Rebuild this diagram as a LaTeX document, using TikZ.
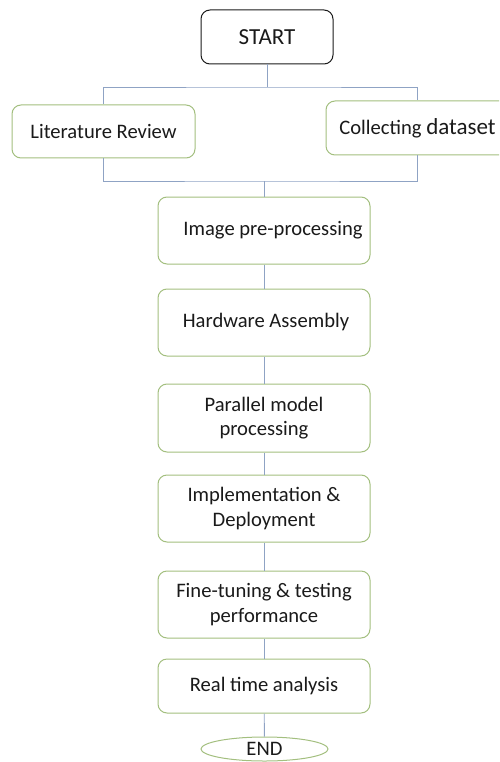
\documentclass[tikz,border=0pt]{standalone}
\usepackage{fontspec}
\setmainfont{Carlito}
\usetikzlibrary{shapes.geometric}
\definecolor{boxgreen}{HTML}{A3BF7F}
\definecolor{linkblue}{HTML}{8FA3C4}
\definecolor{ink}{HTML}{1A1A1A}
\begin{document}
\begin{tikzpicture}[x=1pt,y=-1pt,
  stepbox/.style={draw=boxgreen, line width=1pt, rounded corners=9pt, fill=white,
    minimum width=212pt, minimum height=67pt, align=center, text=ink,
    font=\fontsize{20.6}{24.5}\selectfont, inner sep=2pt},
  link/.style={draw=linkblue, line width=0.9pt}]
\useasboundingbox (0,0) rectangle (499,762);
\clip (0,0) rectangle (499,762);

% start node
\node[draw=ink, line width=1pt, rounded corners=9pt, minimum width=132pt,
  minimum height=54pt, text=ink, font=\fontsize{23}{27}\selectfont] (start) at (267,37) {START};

% two parallel tasks
\node[stepbox, minimum width=183pt, minimum height=53pt] (lit) at (103.5,131.5) {Literature Review};
\node[stepbox, minimum width=183pt, minimum height=54pt] (coll) at (417.5,128)
  {Collecting {\fontsize{23}{27}\selectfont dataset}};

% main chain
\node[stepbox] (img)  at (264,230.5) {\hspace*{18pt}Image pre-processing};
\node[stepbox] (hw)   at (264,322.5) {\hspace*{4pt}Hardware Assembly};
\node[stepbox, minimum height=68pt] (par) at (264,418) {Parallel model\\processing};
\node[stepbox] (impl) at (264,508.5) {Implementation \&\\Deployment};
\node[stepbox] (fine) at (264,604.5) {Fine-tuning \& testing\\performance};
\node[stepbox, minimum height=54pt] (rta) at (264,686) {Real time analysis};
\node[draw=boxgreen, line width=1pt, ellipse, minimum width=127pt, minimum height=24pt,
  inner sep=0pt, text=ink, font=\fontsize{20.6}{22}\selectfont] (finish) at (264.5,749) {END};

% branching connectors
\coordinate (top) at (267,87);
\coordinate (join) at (264,181);
\draw[link] (start) -- (top);
\draw[link] (lit.north) |- (top) -| (coll.north);
\draw[link] (lit.south) |- (join) -| (coll.south);
\draw[link] (join) -- (img);

% chain connectors
\draw[link] (img) -- (hw);
\draw[link] (hw) -- (par);
\draw[link] (par) -- (impl);
\draw[link] (impl) -- (fine);
\draw[link] (fine) -- (rta);
\draw[link] (rta) -- (finish);
\end{tikzpicture}
\end{document}
